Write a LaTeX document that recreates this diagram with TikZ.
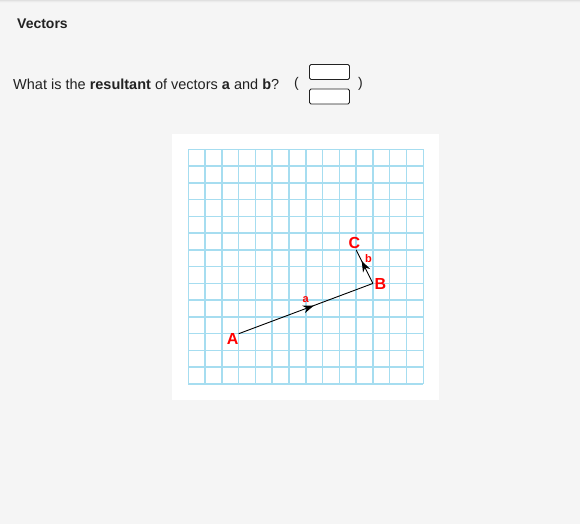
\documentclass[tikz,border=0pt]{standalone}
\usepackage{fontspec}
\setmainfont{Liberation Sans}
\usetikzlibrary{arrows.meta,decorations.markings}
\definecolor{bg}{HTML}{F5F5F5}
\definecolor{gridblue}{HTML}{A6DDF0}
\definecolor{txt}{HTML}{222222}
\definecolor{lblred}{HTML}{FF0000}
\tikzset{
  gridline/.style={draw=gridblue,line width=1.5pt},
  ptlabel/.style={text=lblred,font=\fontsize{16}{16}\selectfont\bfseries,inner sep=0pt},
  veclabel/.style={text=lblred,font=\fontsize{11}{11}\selectfont\bfseries,inner sep=0pt},
  vec/.style={draw=black,line width=0.9pt},
  answerbox/.style={draw=txt,fill=white,line width=0.9pt,rounded corners=1.5pt,minimum width=40pt,minimum height=15pt,inner sep=0pt},
  plain/.style={text=txt,font=\fontsize{14}{14}\selectfont,inner sep=0pt,anchor=west},
}
\begin{document}
\begin{tikzpicture}[x=1pt,y=-1pt]
\useasboundingbox (0,0) rectangle (580,524);
\fill[bg] (0,0) rectangle (580,524);
\fill[black!12] (0,0) rectangle (580,1);
\fill[black!8] (0,1) rectangle (580,2);
\fill[black!5] (0,2) rectangle (580,3);
% title and question
\node[plain,font=\fontsize{14}{14}\selectfont\bfseries] (title) at (17,24) {Vectors};
\node[plain,font=\fontsize{14.5}{14.5}\selectfont] (question) at (13,84) {What is the \textbf{resultant} of vectors \textbf{a} and \textbf{b}?};
\node[plain] (lpar) at (294,84) {(};
\node[plain] (rpar) at (358,84) {)};
\node[answerbox] (box1) at (329.5,72) {};
\node[answerbox] (box2) at (329.5,96.5) {};
% panel
\fill[white] (172,134) rectangle (439,400);
\foreach \i in {0,...,14} {
  \draw[gridline] (188.3+16.786*\i,149.3) -- (188.3+16.786*\i,384);
  \draw[gridline] (188.3,149.3+16.764*\i) -- (423.3,149.3+16.764*\i);
}
% points
\coordinate (A) at (188.3+3*16.786,149.3+11*16.764);
\coordinate (B) at (188.3+11*16.786,149.3+8*16.764);
\coordinate (C) at (188.3+10*16.786,149.3+6*16.764);
\draw[vec,postaction={decorate},decoration={markings,mark=at position 0.56 with {\arrow{Stealth[length=11pt,width=8pt]}}}] (A) -- (B);
\draw[vec,postaction={decorate},decoration={markings,mark=at position 0.67 with {\arrow{Stealth[length=11pt,width=8pt]}}}] (B) -- (C);
\node[ptlabel] (lA) at (232.7,338.5) {A};
\node[ptlabel] (lB) at (380.5,283.5) {B};
\node[ptlabel] (lC) at (354.3,243) {C};
\node[veclabel] (la) at (305.7,299.5) {a};
\node[veclabel] (lb) at (368.5,258.5) {b};
\end{tikzpicture}
\end{document}
